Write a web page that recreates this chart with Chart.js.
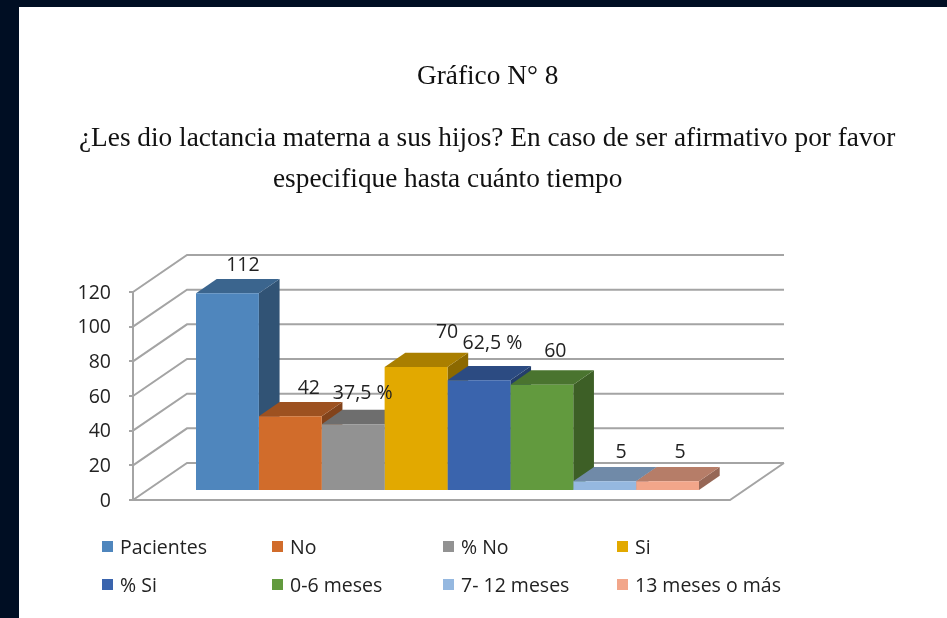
<!DOCTYPE html>
<html>
<head>
<meta charset="utf-8">
<title>Gráfico N° 8</title>
<script src="https://cdn.jsdelivr.net/npm/chart.js@4/dist/chart.umd.min.js"></script>
<style>
  html, body { margin: 0; padding: 0; width: 947px; height: 618px; overflow: hidden; background: #000e23; }
  #sheet { position: absolute; left: 19px; top: 7px; width: 928px; height: 611px; background: #fff; }
  canvas { position: absolute; left: 0; top: 0; filter: blur(0.4px); }
  .line { position: absolute; white-space: nowrap; font-family: "Liberation Serif", serif; font-size: 27.3px; line-height: 30px; color: #111; filter: blur(0.3px); }
  #legend { position: absolute; left: 102px; top: 527px; display: grid; grid-template-columns: 170px 171px 174px 170px; grid-auto-rows: 38px; font-family: "Open Sans", sans-serif; font-size: 19.5px; color: #222; filter: blur(0.3px); }
  #legend div { display: flex; align-items: center; white-space: nowrap; }
  #legend i { width: 11px; height: 11px; margin-right: 7px; display: block; }
</style>
</head>
<body>
<div id="sheet"></div>
<canvas id="myChart" width="947" height="618"></canvas>
<div class="line" style="left:417px;top:60px">Gráfico N° 8</div>
<div class="line" style="left:79px;top:122px">¿Les dio lactancia materna a sus hijos? En caso de ser afirmativo por favor</div>
<div class="line" style="left:273px;top:163px">especifique hasta cuánto tiempo</div>
<div id="legend"></div>

<script>
'use strict';

const category = ['Lactancia materna'];
const seriesNames = ['Pacientes', 'No', '% No', 'Si', '% Si', '0-6 meses', '7- 12 meses', '13 meses o más'];
const seriesValues = [112, 42, 37.5, 70, 62.5, 60, 5, 5];
const valueLabels = ['112', '42', '37,5 %', '70', '62,5 %', '60', '5', '5'];
const seriesColors = ['#4f86bd', '#d16c2b', '#929292', '#e2a900', '#3a64ad', '#629a3e', '#95b8e0', '#f2a68a'];
const axisMax = 120;
const axisStep = 20;

// 3d look: depth of the walls and of the bars, in pixels
const wallDepth = { x: 54, y: -37 };
const barDepth = { x: 20.7, y: -14.3 };
const floorRight = 730;
// labels were moved by hand in the original chart
const labelShiftX = [15.5, 18.5, 9.5, 31, 13.5, 13.5, 16.5, 12.5];
const labelShiftY = [-28, -28, -31, -35, -37, -33, -29, -29];

const gridColor = '#a4a4a4';
const textColor = '#222';
const labelFont = '19.5px "Open Sans", sans-serif';

function shade(hex, k) {
  const n = parseInt(hex.slice(1), 16);
  const r = Math.round((n >> 16) * k);
  const g = Math.round(((n >> 8) & 255) * k);
  const b = Math.round((n & 255) * k);
  return `rgb(${r},${g},${b})`;
}

function polygon(ctx, pts, color) {
  ctx.fillStyle = color;
  ctx.beginPath();
  pts.forEach((p, i) => i ? ctx.lineTo(p[0], p[1]) : ctx.moveTo(p[0], p[1]));
  ctx.closePath();
  ctx.fill();
}

const walls = {
  id: 'walls',
  beforeDatasetsDraw(chart) {
    const ctx = chart.ctx;
    const yScale = chart.scales.y;
    const left = chart.chartArea.left;
    const bottom = yScale.getPixelForValue(0);
    ctx.save();
    ctx.strokeStyle = gridColor;
    ctx.lineWidth = 2;
    yScale.ticks.forEach((t) => {
      const y = yScale.getPixelForValue(t.value);
      ctx.beginPath();
      ctx.moveTo(left, y);
      ctx.lineTo(left + wallDepth.x, y + wallDepth.y);
      ctx.lineTo(floorRight + wallDepth.x, y + wallDepth.y);
      ctx.stroke();
    });
    ctx.beginPath();
    ctx.moveTo(left, bottom);
    ctx.lineTo(floorRight, bottom);
    ctx.lineTo(floorRight + wallDepth.x, bottom + wallDepth.y);
    ctx.stroke();
    ctx.restore();

    // sides and tops sit behind the front faces, left to right
    for (let i = 0; i < seriesNames.length; i++) {
      const bar = chart.getDatasetMeta(i).data[0];
      const color = seriesColors[i];
      const right = bar.x + bar.width / 2;
      const leftEdge = bar.x - bar.width / 2;
      polygon(ctx, [[right, bar.y], [right + barDepth.x, bar.y + barDepth.y], [right + barDepth.x, bar.base + barDepth.y], [right, bar.base]], shade(color, 0.62));
      polygon(ctx, [[leftEdge, bar.y], [leftEdge + barDepth.x, bar.y + barDepth.y], [right + barDepth.x, bar.y + barDepth.y], [right, bar.y]], shade(color, 0.75));
    }
  },
  afterDatasetsDraw(chart) {
    const ctx = chart.ctx;
    ctx.save();
    ctx.font = labelFont;
    ctx.fillStyle = textColor;
    ctx.textAlign = 'center';
    ctx.textBaseline = 'middle';
    valueLabels.forEach((text, i) => {
      const bar = chart.getDatasetMeta(i).data[0];
      ctx.fillText(text, bar.x + labelShiftX[i], bar.y + labelShiftY[i]);
    });
    ctx.restore();
  }
};

const datasets = [];
for (let i = 0; i < seriesNames.length; i++) {
  datasets.push({
    label: seriesNames[i],
    data: [seriesValues[i]],
    backgroundColor: seriesColors[i],
    yAxisID: 'barAxis'
  });
}

const ctx = document.getElementById('myChart').getContext('2d');
const myChart = new Chart(ctx, {
  type: 'bar',
  data: { labels: category, datasets: datasets },
  plugins: [walls],
  options: {
    responsive: false,
    animation: false,
    layout: { padding: { left: 0, top: 292, right: 185, bottom: 118 } },
    datasets: { bar: { barPercentage: 1, categoryPercentage: 503 / 629 } },
    plugins: { legend: { display: false }, tooltip: { enabled: false } },
    scales: {
      x: { display: false },
      y: {
        min: 0,
        max: axisMax,
        afterFit(scale) { scale.width = 133; },
        ticks: { stepSize: axisStep, padding: 18, labelOffset: 1, color: textColor, font: { family: '"Open Sans", sans-serif', size: 19.5 } },
        grid: { drawOnChartArea: false, drawTicks: true, tickLength: 4, color: gridColor, lineWidth: 2 },
        border: { color: gridColor, width: 2 }
      },
      // bars stand further back than the wall front, so their own scale is shifted
      barAxis: { display: false, min: -5.69, max: 112.76 }
    }
  }
});

const legend = document.getElementById('legend');
myChart.data.datasets.forEach((d) => {
  const item = document.createElement('div');
  const box = document.createElement('i');
  box.style.background = d.backgroundColor;
  item.appendChild(box);
  item.appendChild(document.createTextNode(d.label));
  legend.appendChild(item);
});
</script>
</body>
</html>
